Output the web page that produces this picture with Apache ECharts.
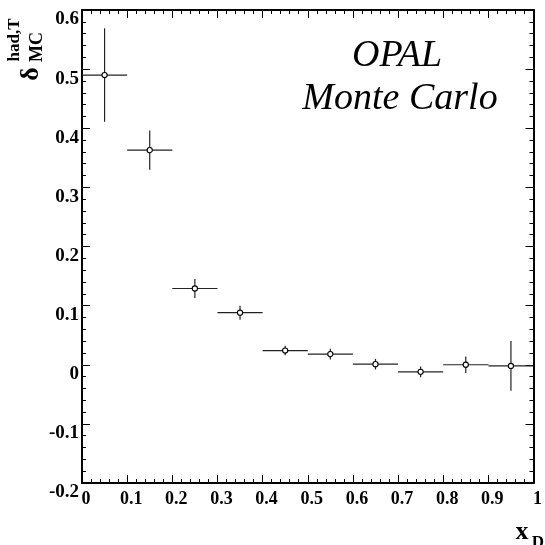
<!DOCTYPE html>
<html>
<head>
<meta charset="utf-8">
<script src="https://cdn.jsdelivr.net/npm/echarts@6/dist/echarts.min.js"></script>
<style>html,body{margin:0;padding:0;background:#fff}#c{width:545px;height:545px}</style>
</head>
<body>
<div id="c"></div>
<script>
// Bin edges (x_D) and MC hadronisation correction values with errors
var binLow  = [0.0, 0.1, 0.2, 0.3, 0.4, 0.5, 0.6, 0.7, 0.8, 0.9];
var binHigh = [0.1, 0.2, 0.3, 0.4, 0.5, 0.6, 0.7, 0.8, 0.9, 1.0];
var values  = [0.490, 0.363, 0.129, 0.088, 0.024, 0.018, 0.001, -0.012, 0.000, -0.002];
var errors  = [0.079, 0.033, 0.016, 0.012, 0.008, 0.009, 0.009, 0.009, 0.014, 0.042];
var xTicks = [0, 0.1, 0.2, 0.3, 0.4, 0.5, 0.6, 0.7, 0.8, 0.9, 1];
var yTicks = [-0.2, -0.1, 0, 0.1, 0.2, 0.3, 0.4, 0.5, 0.6];

var data = values.map(function (v, i) {
  return [(binLow[i] + binHigh[i]) / 2, v, binLow[i], binHigh[i], errors[i]];
});

var FONT = '"Liberation Serif", "Times New Roman", serif';
var chart = echarts.init(document.getElementById('c'));

function fmt(v) { return String(Math.round(v * 10) / 10); }

var axisLineStyle = { color: '#000', width: 2 };
function frameAxis(type, min, max, pos) {
  return {
    type: 'value', min: min, max: max, interval: 0.1, position: pos,
    axisLine: { onZero: false, lineStyle: axisLineStyle },
    axisTick: { inside: true, length: 8, lineStyle: { color: '#000', width: 1 } },
    minorTick: { show: true, splitNumber: 5, length: 4, lineStyle: { color: '#000', width: 1 } },
    splitLine: { show: false }, axisLabel: { show: false }
  };
}
var xMain = frameAxis('x', 0, 1, 'bottom');
xMain.axisLabel = { fontFamily: FONT, fontWeight: 'bold', fontSize: 18, color: '#000', margin: 7,
  padding: [0, 0, 0, 8], showMinLabel: true, showMaxLabel: true,
  formatter: function (v) { return fmt(v); } };
var yMain = frameAxis('y', -0.2, 0.6, 'left');
yMain.axisLabel = { fontFamily: FONT, fontWeight: 'bold', fontSize: 19, color: '#000', margin: 3,
  verticalAlign: 'top', lineHeight: 19, showMinLabel: true, showMaxLabel: true,
  formatter: function (v) { return fmt(v); } };

var option = {
  animation: false,
  backgroundColor: '#fff',
  grid: { left: 82, top: 10, right: 7, bottom: 62, containLabel: false },
  xAxis: [xMain, frameAxis('x', 0, 1, 'top')],
  yAxis: [yMain, frameAxis('y', -0.2, 0.6, 'right')],
  series: [{
    type: 'custom',
    xAxisIndex: 0, yAxisIndex: 0,
    data: data,
    clip: false,
    renderItem: function (params, api) {
      var xc = api.value(0), y = api.value(1), lo = api.value(2), hi = api.value(3), e = api.value(4);
      var c = api.coord([xc, y]);
      var pL = api.coord([lo, y]);
      var pR = api.coord([hi, y]);
      var pT = api.coord([xc, y + e]);
      var pB = api.coord([xc, y - e]);
      var ls = { stroke: '#222', lineWidth: 1.2 };
      return {
        type: 'group',
        children: [
          { type: 'line', shape: { x1: pL[0], y1: pL[1], x2: pR[0], y2: pR[1] }, style: ls },
          { type: 'line', shape: { x1: pT[0], y1: pT[1], x2: pB[0], y2: pB[1] }, style: ls },
          { type: 'circle', shape: { cx: c[0], cy: c[1], r: 2.6 }, style: { fill: '#fff', stroke: '#000', lineWidth: 1.1 }, z2: 10 }
        ]
      };
    }
  }],
  graphic: [
    { type: 'text', x: 397, y: 75, style: { text: 'OPAL', font: 'italic 38px ' + FONT, fill: '#000', textAlign: 'center', textVerticalAlign: 'bottom' } },
    { type: 'text', x: 400, y: 118, style: { text: 'Monte Carlo', font: 'italic 38px ' + FONT, fill: '#000', textAlign: 'center', textVerticalAlign: 'bottom' } },
    { type: 'text', x: 31, y: 74, rotation: Math.PI / 2, style: { text: 'δ', font: 'bold 26px ' + FONT, fill: '#000', textAlign: 'center', textVerticalAlign: 'middle' } },
    { type: 'text', x: 15, y: 40, rotation: Math.PI / 2, style: { text: 'had,T', font: 'bold 17px ' + FONT, fill: '#000', textAlign: 'center', textVerticalAlign: 'middle' } },
    { type: 'text', x: 37, y: 47, rotation: Math.PI / 2, style: { text: 'MC', font: 'bold 18px ' + FONT, fill: '#000', textAlign: 'center', textVerticalAlign: 'middle' } },
    { type: 'text', x: 522, y: 532, style: { text: 'x', font: 'bold 26px ' + FONT, fill: '#000', textAlign: 'center', textVerticalAlign: 'middle' } },
    { type: 'text', x: 538, y: 543, style: { text: 'D', font: 'bold 17px ' + FONT, fill: '#000', textAlign: 'center', textVerticalAlign: 'middle' } }
  ]
};
chart.setOption(option);
</script>
</body>
</html>
